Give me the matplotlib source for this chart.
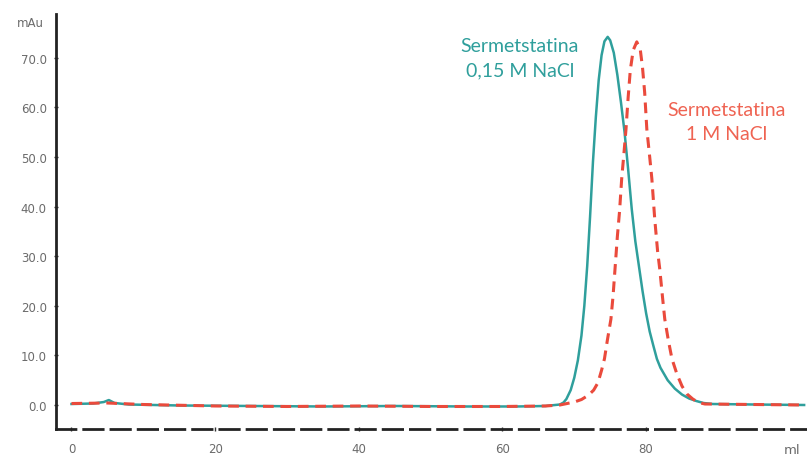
import matplotlib.pyplot as plt

# elution volume (ml) and absorbance (mAu)
teal_x = [0, 3, 4.5, 5.2, 6, 8, 15, 25, 35, 45, 55, 62, 66, 68.0, 68.5, 68.9, 69.5,
          70.0, 70.5, 71.0, 71.4, 71.8, 72.2, 72.6, 73.0, 73.4, 73.8, 74.2, 74.65, 75.0,
          75.5, 76.0, 76.5, 77.0, 77.5, 78.0, 78.5, 79.0, 79.5, 80.0, 80.5, 81.0, 81.5,
          82.0, 83.0, 84.0, 85.0, 86.0, 87.0, 88.0, 89.3, 95, 102]
teal_y = [0.2, 0.3, 0.6, 1.0, 0.4, 0.1, -0.1, -0.2, -0.3, -0.2, -0.3, -0.3, -0.2, 0.1,
          0.5, 1.2, 3.0, 5.5, 9.0, 14.0, 20.0, 28.0, 38.0, 49.0, 58.0, 65.5, 70.5, 73.3,
          74.2, 73.5, 71.0, 66.5, 61.0, 55.0, 47.5, 39.5, 33.0, 28.0, 23.0, 18.5, 14.8,
          12.0, 9.3, 7.5, 5.0, 3.3, 2.1, 1.3, 0.8, 0.4, 0.2, 0.1, 0.0]

red_x = [0, 5, 10, 20, 30, 40, 50, 60, 66, 68.0, 69.0, 70.0, 71.0, 72.0, 72.7, 73.3,
         73.8, 74.2, 74.6, 75.1, 75.4, 75.7, 76.0, 76.3, 76.6, 76.9, 77.2, 77.5, 77.8,
         78.2, 78.7, 79.2, 79.5, 79.8, 80.1, 80.5, 80.8, 81.2, 81.6, 81.9, 82.3, 82.6,
         83.1, 83.6, 84.3, 85.0, 85.7, 86.5, 87.3, 88.2, 95, 102]
red_y = [0.3, 0.4, 0.1, -0.2, -0.3, -0.2, -0.3, -0.3, -0.2, 0.0, 0.3, 0.6, 1.1, 2.0,
         3.0, 4.5, 7.0, 9.3, 13.0, 17.3, 22.0, 28.0, 34.0, 39.0, 45.6, 50.5, 55.6, 62.0,
         67.5, 71.5, 73.2, 71.5, 68.0, 63.0, 55.6, 50.0, 45.6, 37.5, 31.0, 27.4, 21.5,
         17.3, 13.0, 9.3, 6.2, 3.8, 2.2, 1.2, 0.5, 0.2, 0.1, 0.0]

x_ticks = [0, 20, 40, 60, 80]
y_ticks = [0, 10, 20, 30, 40, 50, 60, 70]

TEAL = "#2f9f9c"
RED = "#ea4a3c"
GREY = "#6b6b6b"

fig = plt.figure(figsize=(8.07, 4.56), dpi=100)
ax = fig.add_axes([0.069, 0.057, 0.931, 0.91])

ax.plot(teal_x, teal_y, color=TEAL, lw=1.8, zorder=2)
ax.plot(red_x, red_y, color=RED, lw=2.2, dashes=(3.5, 2.2), zorder=3)

ax.set_xlim(-2.2, 102.4)
ax.set_ylim(-4.84, 78.8)

ax.set_xticks(x_ticks)
ax.set_yticks(y_ticks)
ax.set_yticklabels([f"{v:.1f}" for v in y_ticks])
ax.tick_params(axis="both", colors="#333333", labelcolor=GREY, labelsize=8.5,
               length=3, width=1, direction="inout")
ax.tick_params(axis="y", pad=5)
ax.tick_params(axis="x", pad=8)

for side in ["top", "right"]:
    ax.spines[side].set_visible(False)
ax.spines["left"].set_linewidth(2)
ax.spines["left"].set_color("#222222")
ax.spines["bottom"].set_linewidth(2)
ax.spines["bottom"].set_color("#222222")
ax.spines["bottom"].set_linestyle((0, (7, 2.8)))

fig.text(0.021, 0.94, "mAu", color=GREY, fontsize=8.5)
fig.text(0.971, 0.005, "ml", color=GREY, fontsize=9.5)

ax.text(520 / 807, 1 - 59 / 456, "Sermetstatina\n0,15 M NaCl", transform=fig.transFigure,
        color=TEAL, fontsize=14, ha="center", va="center", family="Lato", linespacing=1.5)
ax.text(727 / 807, 1 - 122 / 456, "Sermetstatina\n1 M NaCl", transform=fig.transFigure,
        color="#ef6352", fontsize=14, ha="center", va="center", family="Lato", linespacing=1.5)

fig.savefig("out.png", dpi=100)
